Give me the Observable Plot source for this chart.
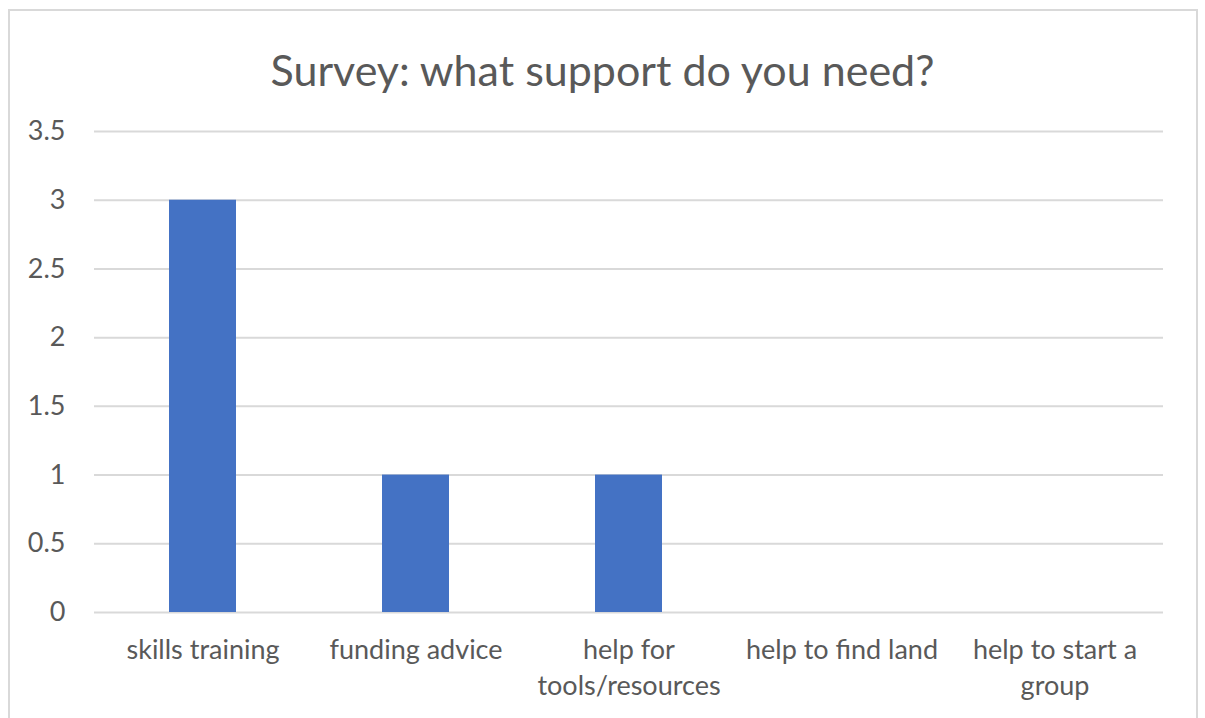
<!DOCTYPE html>
<html>
<head>
<meta charset="utf-8">
<script src="https://cdn.jsdelivr.net/npm/d3@7"></script>
<script src="https://cdn.jsdelivr.net/npm/@observablehq/plot@0.6"></script>
<style>
  html, body { margin: 0; padding: 0; background: #fff; overflow: hidden; }
  #wrap { position: relative; width: 1205px; height: 718px; font-family: Lato, "Open Sans", sans-serif; }
  #frame { position: absolute; left: 8px; top: 9px; width: 1190px; height: 720px; border: 2px solid #d9d9d9; box-sizing: border-box; }
  #title { position: absolute; left: 0; width: 1205px; top: 44px; text-align: center; font-size: 43px; color: #595959; line-height: 52px; }
  #chart { position: absolute; left: 0; top: 0; }
</style>
</head>
<body>
<div id="wrap">
  <div id="frame"></div>
  <div id="title">Survey: what support do you need?</div>
  <div id="chart"></div>
</div>
<script>
const categories = ["skills training", "funding advice", "help for tools/resources", "help to find land", "help to start a group"];
const values = [3, 1, 1, 0, 0];
const categoryLabels = ["skills training", "funding advice", "help for\ntools/resources", "help to find land", "help to start a\ngroup"];
const yTicks = [0, 0.5, 1, 1.5, 2, 2.5, 3, 3.5];

const data = categories.map((c, i) => ({category: c, value: values[i], label: categoryLabels[i]}));

const textColor = "#595959";
const fontSize = 27;

const plot = Plot.plot({
  width: 1205,
  height: 718,
  marginLeft: 94,
  marginRight: 42,
  marginTop: 131,
  marginBottom: 106,
  style: {fontFamily: "Lato, 'Open Sans', sans-serif", background: "transparent", color: textColor},
  x: {domain: categories, paddingInner: 0.687, paddingOuter: 0.3435, axis: null},
  y: {domain: [0, 3.5], axis: null},
  marks: [
    Plot.ruleY(yTicks, {stroke: "#d9d9d9", strokeWidth: 2}),
    Plot.barY(data, {x: "category", y: "value", fill: "#4472C4"}),
    Plot.axisY(yTicks, {tickSize: 0, tickPadding: 29, tickFormat: d => String(d), fontSize, fill: textColor, label: null}),
    Plot.text(data, {x: "category", text: "label", frameAnchor: "bottom", lineAnchor: "top", dy: 21, lineHeight: 1.33, fontSize, fill: textColor})
  ]
});
document.getElementById("chart").appendChild(plot);
</script>
</body>
</html>
